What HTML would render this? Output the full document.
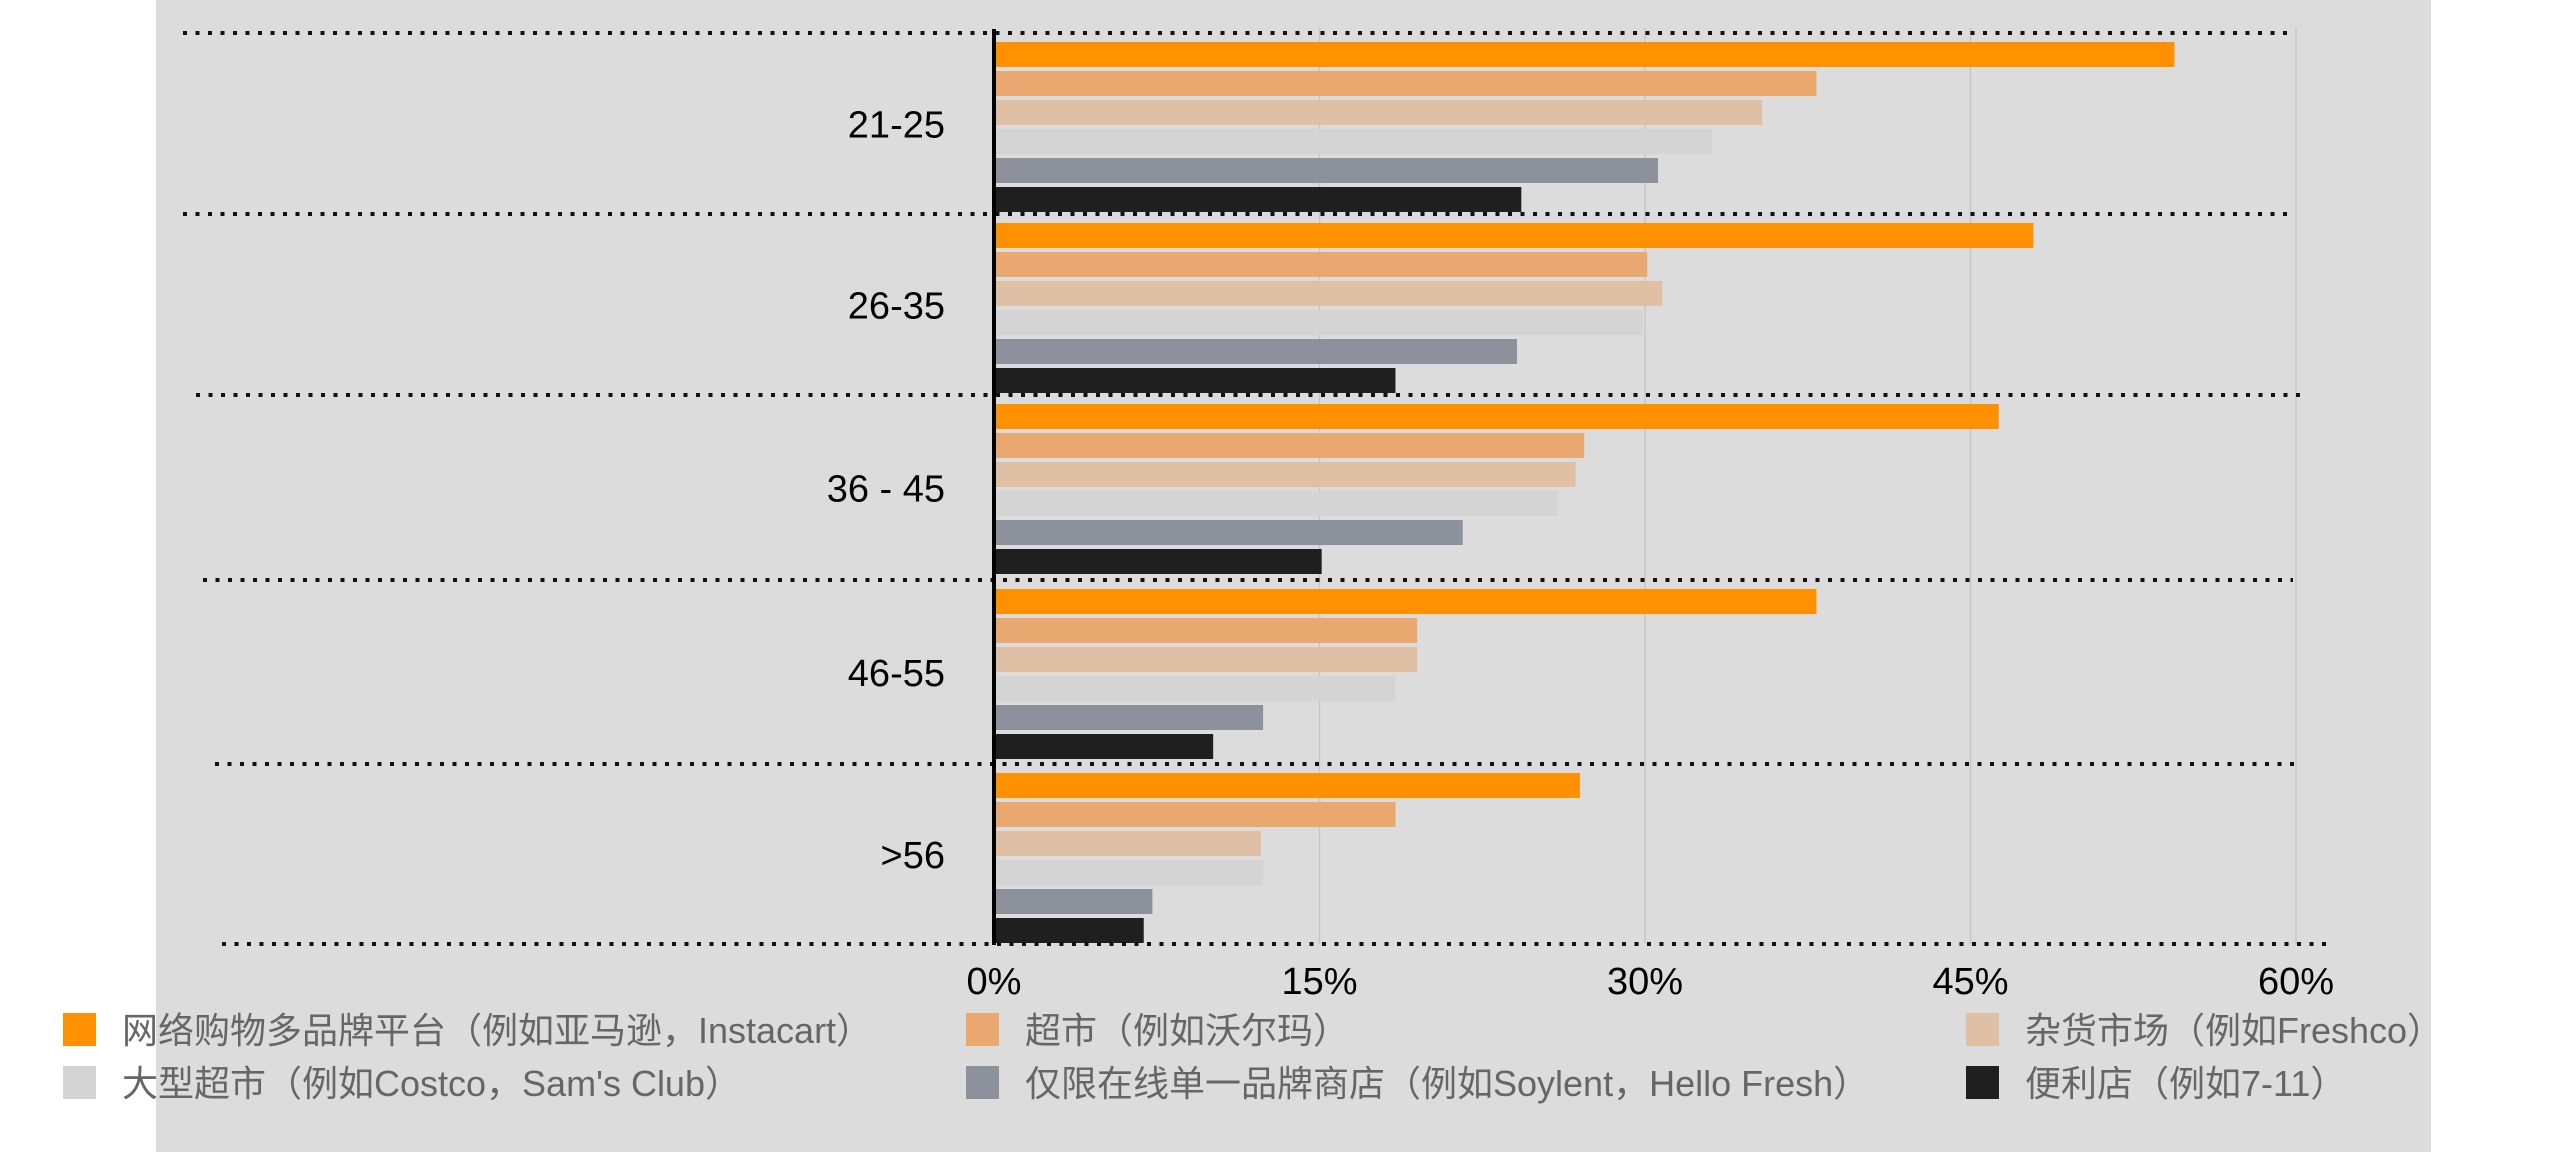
<!DOCTYPE html>
<html><head><meta charset="utf-8"><style>
body{margin:0;background:#fff;width:2550px;height:1152px;overflow:hidden;}
svg{display:block;font-family:"Liberation Sans","Noto Sans CJK SC",sans-serif;}
</style></head><body>
<svg id="chart" width="2550" height="1152">
<rect x="156" y="0" width="2275" height="1152" fill="#dbdcdb"/>
<g id="grid"></g><g id="bars"></g><g id="seps"></g><g id="labels"></g><g id="legend"></g>
</svg>
<script>
const categories = ["21-25","26-35","36 - 45","46-55",">56"];
const seriesNames = ["网络购物多品牌平台（例如亚马逊，Instacart）","超市（例如沃尔玛）","杂货市场（例如Freshco）","大型超市（例如Costco，Sam's Club）","仅限在线单一品牌商店（例如Soylent，Hello Fresh）","便利店（例如7-11）"];
const online = [54.4,47.9,46.3,37.9,27.0];
const supermarket = [37.9,30.1,27.2,19.5,18.5];
const grocery = [35.4,30.8,26.8,19.5,12.3];
const hypermarket = [33.1,29.9,26.0,18.5,12.4];
const singleBrand = [30.6,24.1,21.6,12.4,7.3];
const convenience = [24.3,18.5,15.1,10.1,6.9];
const ticks = [0,15,30,45,60];
const tickLabels = ["0%","15%","30%","45%","60%"];

const series = [online,supermarket,grocery,hypermarket,singleBrand,convenience];
const colors = ["#ff9100","#e8a870","#e0c0a4","#d4d4d4","#8c919c","#1f1f1f"];
const NS="http://www.w3.org/2000/svg";
const x0=994, pxPer=(2296-994)/60;
const xs=v=>x0+v*pxPer;
const sepY=[33,214,395,580,764,944];
const sepX=[[183,2290],[183,2290],[196,2300],[203,2293],[215,2295],[222,2328]];
function mk(t,a,p){const e=document.createElementNS(NS,t);for(const k in a)e.setAttribute(k,a[k]);(p||document.getElementById('chart')).appendChild(e);return e;}
const grid=document.getElementById('grid');
ticks.forEach((t,i)=>{
  if(t>0){const l=mk('line',{x1:xs(t),x2:xs(t),y1:28,y2:944,stroke:'#c6c6c6','stroke-width':1.5},grid);
  
  }
  const tx=mk('text',{x:xs(t),y:994,'font-size':38,'text-anchor':'middle',fill:'#000'},grid);
  tx.textContent=tickLabels[i];
  
  
});
const bars=document.getElementById('bars');
categories.forEach((c,gi)=>{
  const top=sepY[gi];
  series.forEach((s,si)=>{
    const r=mk('rect',{x:x0,y:top+9+29*si,width:xs(s[gi])-x0,height:25,fill:colors[si]},bars);
    
    
  });
  const t=mk('text',{x:945,y:(sepY[gi]+sepY[gi+1])/2+14,'font-size':38,'text-anchor':'end',fill:'#000'},document.getElementById('labels'));
  t.textContent=c;
  
  
});
const seps=document.getElementById('seps');
sepY.forEach((y,i)=>{
  const l=mk('line',{x1:sepX[i][0],x2:sepX[i][1],y1:y,y2:y,stroke:'#111','stroke-width':4,'stroke-dasharray':'4 8.5'},seps);
  
  
});
const ax=mk('line',{x1:x0,x2:x0,y1:29,y2:945,stroke:'#000','stroke-width':4},seps);


const leg=document.getElementById('legend');
const legPos=[[63,1013],[966,1013],[1966,1013],[63,1066],[966,1066],[1966,1066]];
seriesNames.forEach((n,i)=>{
  const g=mk('g',{},leg);
  
  
  mk('rect',{x:legPos[i][0],y:legPos[i][1],width:33,height:33,fill:colors[i]},g);
  const t=mk('text',{x:legPos[i][0]+59,y:legPos[i][1]+30,'font-size':36,fill:'#666'},g);
  t.textContent=n;
});
</script>
</body></html>
